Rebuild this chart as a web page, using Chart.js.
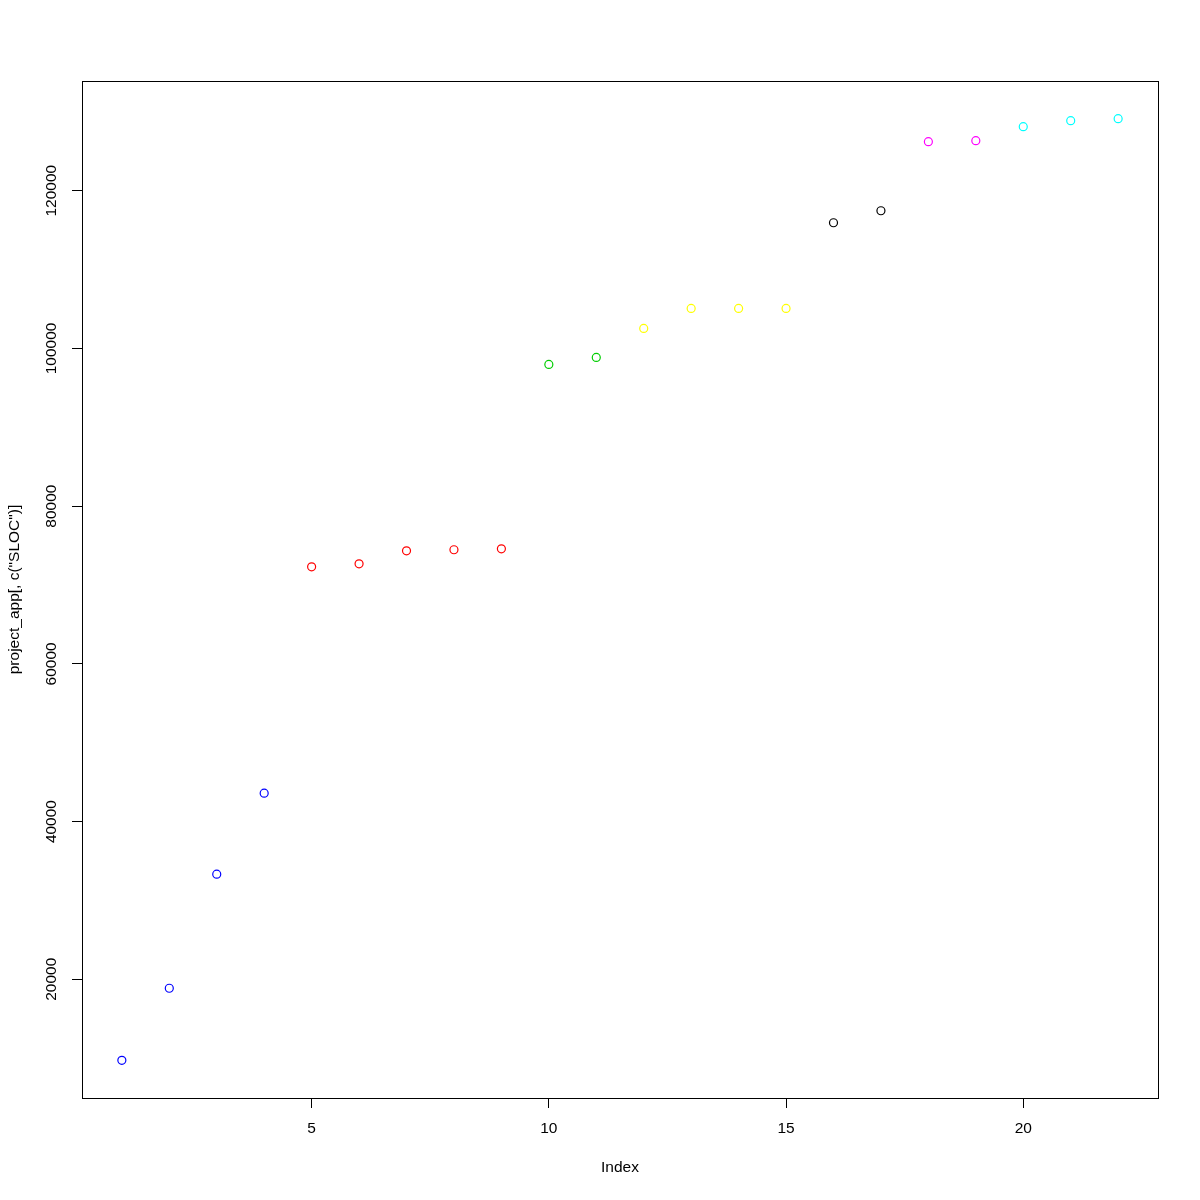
<!DOCTYPE html>
<html>
<head>
<meta charset="utf-8">
<script src="https://cdn.jsdelivr.net/npm/chart.js@4/dist/chart.umd.min.js"></script>
<style>
  html, body { margin: 0; padding: 0; background: #fff; }
  #wrap { width: 1200px; height: 1200px; }
</style>
</head>
<body>
<div id="wrap"><canvas id="plot" width="1200" height="1200"></canvas></div>
<script>
// SLOC per project, sorted, grouped by colour
const sloc = [9720, 18860, 33330, 43600, 72310, 72690, 74340, 74470, 74590,
              97970, 98860, 102540, 105080, 105080, 105080, 115940, 117460,
              126220, 126350, 128120, 128880, 129140];
const group = [0, 0, 0, 0, 1, 1, 1, 1, 1, 2, 2, 3, 3, 3, 3, 4, 4, 5, 5, 6, 6, 6];
const xTicks = [5, 10, 15, 20];
const yTicks = [20000, 40000, 60000, 80000, 100000, 120000];

const palette = ['#0000FF', '#FF0000', '#00CD00', '#FFFF00', '#000000', '#FF00FF', '#00FFFF'];
const font = { family: '"Liberation Sans", Arial, sans-serif', size: 15.5 };

// R-style 4% padding of the ranges
const xPad = (sloc.length - 1) * 0.04;
const yPad = (Math.max(...sloc) - Math.min(...sloc)) * 0.04;

const points = sloc.map((v, i) => ({ x: i + 1, y: v }));

const boxPlugin = {
    id: 'box',
    afterDraw(chart) {
        const { ctx, chartArea: a } = chart;
        ctx.save();
        ctx.strokeStyle = '#000';
        ctx.lineWidth = 1;
        ctx.strokeRect(a.left + 0.5, a.top + 0.5, a.right - a.left, a.bottom - a.top);
        ctx.restore();
    }
};

new Chart(document.getElementById('plot').getContext('2d'), {
    type: 'scatter',
    data: {
        datasets: [{
            data: points,
            pointStyle: 'circle',
            pointRadius: 4,
            pointHoverRadius: 4,
            pointBorderWidth: 1.2,
            pointBackgroundColor: 'rgba(0,0,0,0)',
            pointBorderColor: group.map(g => palette[g])
        }]
    },
    options: {
        responsive: false,
        animation: false,
        layout: { padding: { top: 81, right: 42, left: 0, bottom: 0 } },
        plugins: { legend: { display: false }, tooltip: { enabled: false } },
        scales: {
            x: {
                type: 'linear',
                min: 1 - xPad,
                max: sloc.length + xPad,
                afterBuildTicks: s => { s.ticks = xTicks.map(v => ({ value: v })); },
                afterFit: s => { s.height = 102; },
                grid: { drawOnChartArea: false, drawTicks: true, tickLength: 10, color: '#000', lineWidth: 1 },
                border: { display: false },
                ticks: { color: '#000', font: font, padding: 11, maxRotation: 0, minRotation: 0 },
                title: { display: true, text: 'Index', color: '#000', font: font, padding: { top: 0, bottom: 23 } }
            },
            y: {
                type: 'linear',
                min: Math.min(...sloc) - yPad,
                max: Math.max(...sloc) + yPad,
                afterBuildTicks: s => { s.ticks = yTicks.map(v => ({ value: v })); },
                afterFit: s => { s.width = 82; },
                grid: { drawOnChartArea: false, drawTicks: true, tickLength: 10, color: '#000', lineWidth: 1 },
                border: { display: false },
                ticks: { color: '#000', font: font, padding: -6, minRotation: 90, maxRotation: 90, crossAlign: 'center',
                         callback: v => String(v) },
                title: { display: true, text: 'project_app[, c("SLOC")]', color: '#000', font: font, padding: { top: 5, bottom: 0 } }
            }
        }
    },
    plugins: [boxPlugin]
});
</script>
</body>
</html>
